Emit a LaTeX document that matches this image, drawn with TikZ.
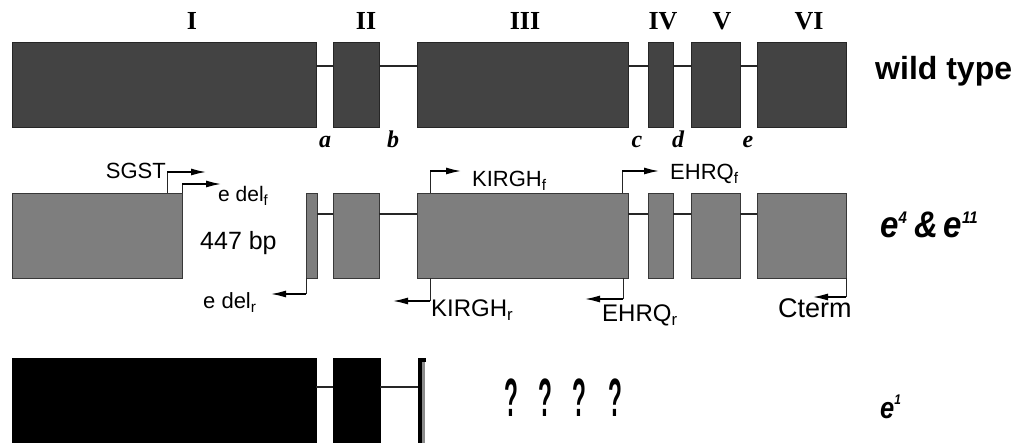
\documentclass[tikz,border=0pt]{standalone}
\usepackage{fontspec}
\setmainfont{Liberation Serif}
\setsansfont{Liberation Sans}
\usetikzlibrary{arrows.meta}
\definecolor{wtfill}{HTML}{434343}
\definecolor{wtdraw}{HTML}{262626}
\definecolor{mutfill}{HTML}{7E7E7E}
\definecolor{mutdraw}{HTML}{383838}
\newcommand{\fsz}[1]{\fontsize{#1}{#1}\selectfont}
\newcommand{\sups}[2]{\raisebox{#1}{\fsz{15}#2}}
\begin{document}
\begin{tikzpicture}[x=1pt,y=-1pt,
  exon/.style={draw, line width=0.9pt, inner sep=0pt, outer sep=0pt, minimum height=85pt, anchor=north west},
  wtexon/.style={exon, fill=wtfill, draw=wtdraw},
  mutexon/.style={exon, fill=mutfill, draw=mutdraw},
  blkexon/.style={exon, fill=black, draw=black, minimum height=92pt},
  intron/.style={line width=1.1pt, draw=black!85},
  roman/.style={font=\fsz{26}\bfseries, anchor=base, inner sep=0pt},
  site/.style={font=\fsz{24}\bfseries\itshape, anchor=base, inner sep=0pt},
  primer/.style={font=\sffamily, anchor=base west, inner sep=0pt},
  stem/.style={line width=0.8pt, draw=black!85},
  parrow/.style={line width=2pt, -{Latex[length=16pt,width=7pt]}},
  strain/.style={font=\sffamily\bfseries, anchor=base west, inner sep=0pt},
  qmark/.style={font=\sffamily\bfseries\fsz{54}, anchor=base, inner sep=0pt, xscale=0.42}
]
\useasboundingbox (0,0) rectangle (1012,443);
\clip (0,0) rectangle (1012,443);

% ---------- wild type ----------
\node[wtexon, minimum width=304pt] (w1) at (12,42) {};
\node[wtexon, minimum width=46pt]  (w2) at (333,42) {};
\node[wtexon, minimum width=211pt] (w3) at (417,42) {};
\node[wtexon, minimum width=25pt]  (w4) at (648,42) {};
\node[wtexon, minimum width=49pt]  (w5) at (691,42) {};
\node[wtexon, minimum width=89pt]  (w6) at (757,42) {};
\foreach \a/\b in {w1/w2,w2/w3,w3/w4,w4/w5,w5/w6}
  \draw[intron] ([yshift=18.5pt]\a.east) -- ([yshift=18.5pt]\b.west);

\node[roman] (rI)   at (192,30) {I};
\node[roman] (rII)  at (366,30) {II};
\node[roman] (rIII) at (525,30) {III};
\node[roman] (rIV)  at (663,30) {IV};
\node[roman] (rV)   at (722,30) {V};
\node[roman] (rVI)  at (809,30) {VI};

\node[site] (sa) at (325,148) {a};
\node[site] (sb) at (393,148) {b};
\node[site] (sc) at (637,148) {c};
\node[site] (sd) at (678,148) {d};
\node[site] (se) at (748,148) {e};

\node[strain, font=\sffamily\bfseries\fsz{32}] (lwt) at (875,80) {wild type};

% ---------- e4 & e11 ----------
\node[mutexon, minimum width=170pt] (m1) at (12,193) {};
\node[mutexon, minimum width=11pt]  (m2) at (306,193) {};
\node[mutexon, minimum width=46pt]  (m3) at (333,193) {};
\node[mutexon, minimum width=211pt] (m4) at (417,193) {};
\node[mutexon, minimum width=25pt]  (m5) at (648,193) {};
\node[mutexon, minimum width=49pt]  (m6) at (691,193) {};
\node[mutexon, minimum width=89pt]  (m7) at (757,193) {};
\foreach \a/\b in {m2/m3,m3/m4,m4/m5,m5/m6,m6/m7}
  \draw[intron] ([yshift=21.5pt]\a.east) -- ([yshift=21.5pt]\b.west);

% primers
\coordinate (sgK) at (167,172); \coordinate (sgE) at (207,172);
\draw[stem] ([xshift=-15pt]m1.north east) -- (sgK);
\draw[parrow] (sgK) -- (sgE);
\node[primer, font=\sffamily\fsz{22}, anchor=base east] (tsg) at (166,179) {SGST};

\coordinate (dfK) at (182,184); \coordinate (dfE) at (222,184);
\draw[stem] (m1.north east) -- (dfK);
\draw[parrow] (dfK) -- (dfE);
\node[primer, font=\sffamily\fsz{21}] (tdf) at (218,202) {e del\textsubscript{f}};

\node[primer, font=\sffamily\fsz{25}] (tbp) at (200,250) {447 bp};

\coordinate (drK) at (306,294); \coordinate (drE) at (270,294);
\draw[stem] (m2.south west) -- (drK);
\draw[parrow] (drK) -- (drE);
\node[primer, font=\sffamily\fsz{22}] (tdr) at (203,309) {e del\textsubscript{r}};

\coordinate (kfK) at (430,171); \coordinate (kfE) at (462,171);
\draw[stem] ([xshift=13pt]m4.north west) -- (kfK);
\draw[parrow] (kfK) -- (kfE);
\node[primer, font=\sffamily\fsz{22}] (tkf) at (472,187) {KIRGH\textsubscript{f}};

\coordinate (krK) at (430,301); \coordinate (krE) at (392,301);
\draw[stem] ([xshift=13pt]m4.south west) -- (krK);
\draw[parrow] (krK) -- (krE);
\node[primer, font=\sffamily\fsz{24}] (tkr) at (431,317) {KIRGH\textsubscript{r}};

\coordinate (efK) at (622,171); \coordinate (efE) at (660,171);
\draw[stem] ([xshift=-6pt]m4.north east) -- (efK);
\draw[parrow] (efK) -- (efE);
\node[primer, font=\sffamily\fsz{22}] (tef) at (670,180) {EHRQ\textsubscript{f}};

\coordinate (erK) at (623,299); \coordinate (erE) at (584,299);
\draw[stem] ([xshift=-5pt]m4.south east) -- (erK);
\draw[parrow] (erK) -- (erE);
\node[primer, font=\sffamily\fsz{24}] (ter) at (602,322) {EHRQ\textsubscript{r}};

\coordinate (ctK) at (846,297); \coordinate (ctE) at (812,297);
\draw[stem] (m7.south east) -- (ctK);
\draw[parrow] (ctK) -- (ctE);
\node[primer, font=\sffamily\fsz{27}] (tct) at (778,318) {Cterm};

\node[strain, font=\sffamily\bfseries\itshape\fsz{33}, yscale=1.12] (le4) at (880,238)
  {e\sups{13pt}{4}\hspace{8pt}\&\hspace{5pt}e\sups{13pt}{11}};

% ---------- e1 ----------
\node[blkexon, minimum width=304pt] (b1) at (12,358) {};
\node[blkexon, minimum width=47pt]  (b2) at (333,358) {};
\coordinate (brk) at (418,387);
\draw[intron] ([yshift=17pt]b1.east) -- ([yshift=17pt]b2.west);
\draw[intron] ([yshift=17pt]b2.east) -- (brk);
\draw[line width=2.5pt, draw=black!45] (423.5,361) -- (423.5,443);
\draw[line width=4pt] (426,360) -- (420,360) -- (420,443);

\node[qmark] (q1) at (511,417) {?};
\node[qmark] (q2) at (545,417) {?};
\node[qmark] (q3) at (579,417) {?};
\node[qmark] (q4) at (615,417) {?};

\node[strain, font=\sffamily\bfseries\itshape\fsz{30}, xscale=0.85] (le1) at (880,418)
  {e\raisebox{14pt}{\fsz{14}1}};
\end{tikzpicture}
\end{document}
